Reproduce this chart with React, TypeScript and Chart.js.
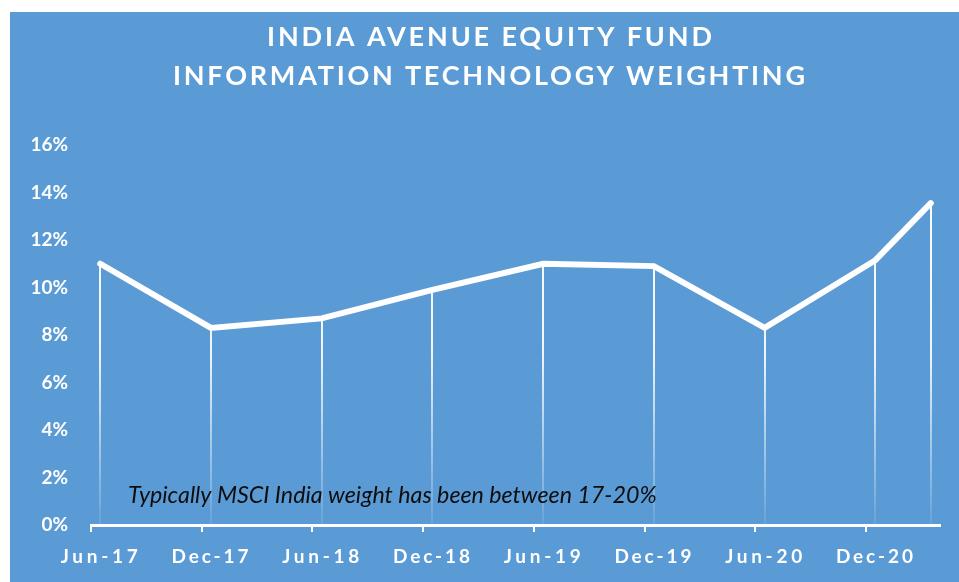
import React, { useEffect, useRef } from "react";
import { Chart, registerables } from "chart.js";

Chart.register(...registerables);

const titleLines = ["INDIA AVENUE EQUITY FUND", "INFORMATION TECHNOLOGY WEIGHTING"];
const dates = ["2017-06", "2017-12", "2018-06", "2018-12", "2019-06", "2019-12", "2020-06", "2020-12", "2021-03"];
const weights = [11.0, 8.3, 8.7, 9.9, 11.0, 10.9, 8.3, 11.15, 13.55];
const tickDates = ["2017-06", "2017-12", "2018-06", "2018-12", "2019-06", "2019-12", "2020-06", "2020-12"];
const tickLabels = ["Jun-17", "Dec-17", "Jun-18", "Dec-18", "Jun-19", "Dec-19", "Jun-20", "Dec-20"];
const axisEnd = "2021-04";
const note = "Typically MSCI India weight has been between 17-20%";

const BG = "#5B9BD5";
const FONT = "Lato, 'Open Sans', sans-serif";

function monthIndex(s: string): number {
  const [y, m] = s.split("-").map(Number);
  return (y - 2017) * 12 + (m - 6);
}

function drawSpaced(ctx: CanvasRenderingContext2D, text: string, cx: number, cy: number, targetWidth: number) {
  (ctx as any).letterSpacing = "0px";
  const w = ctx.measureText(text).width;
  const sp = (targetWidth - w) / Math.max(1, text.length - 1);
  (ctx as any).letterSpacing = sp + "px";
  ctx.textAlign = "left";
  ctx.fillText(text, cx - targetWidth / 2, cy);
  (ctx as any).letterSpacing = "0px";
}

const overlayPlugin = {
  id: "overlay",
  beforeDatasetsDraw(chart: any) {
    const { ctx, chartArea, scales } = chart;
    const meta = chart.getDatasetMeta(0);
    const grad = ctx.createLinearGradient(0, chartArea.top, 0, chartArea.bottom);
    grad.addColorStop(0, "rgba(255,255,255,1)");
    grad.addColorStop(0.55, "rgba(255,255,255,0.9)");
    grad.addColorStop(1, "rgba(255,255,255,0.08)");
    ctx.save();
    ctx.strokeStyle = grad;
    ctx.lineWidth = 2;
    meta.data.forEach((pt: any) => {
      const x = Math.round(pt.x);
      ctx.beginPath();
      ctx.moveTo(x, pt.y);
      ctx.lineTo(x, scales.y.getPixelForValue(0));
      ctx.stroke();
    });
    ctx.restore();
  },
  afterDraw(chart: any) {
    const { ctx, scales } = chart;
    ctx.save();
    ctx.fillStyle = "#ffffff";
    ctx.textBaseline = "middle";
    // title
    ctx.font = `bold 27px ${FONT}`;
    drawSpaced(ctx, titleLines[0], 479.5, 25.5, 445);
    drawSpaced(ctx, titleLines[1], 479, 64.5, 632);
    // x tick labels
    ctx.font = `bold 19px ${FONT}`;
    tickDates.forEach((d, i) => {
      const x = scales.x.getPixelForValue(monthIndex(d) + 0.5);
      drawSpaced(ctx, tickLabels[i], x - 1, 545, 77);
    });
    // note
    ctx.fillStyle = "#0d0d0d";
    let size = 20;
    ctx.font = `italic ${size}px ${FONT}`;
    const w = ctx.measureText(note).width;
    size = (size * 529) / w;
    ctx.font = `italic ${size}px ${FONT}`;
    ctx.textAlign = "left";
    ctx.fillText(note, 118, 484);
    ctx.restore();
  },
};

export default function App() {
  const ref = useRef<HTMLCanvasElement>(null);
  useEffect(() => {
    if (!ref.current) return;
    const chart = new Chart(ref.current, {
      type: "line",
      data: {
        datasets: [
          {
            data: dates.map((d, i) => ({ x: monthIndex(d) + 0.5, y: weights[i] })),
            borderColor: "#ffffff",
            borderWidth: 6,
            pointRadius: 0,
            tension: 0,
            borderCapStyle: "round",
            borderJoinStyle: "miter",
          },
        ],
      },
      options: {
        animation: false,
        responsive: false,
        maintainAspectRatio: false,
        layout: { padding: { top: 133, right: 19, left: 0, bottom: 0 } },
        plugins: { legend: { display: false }, tooltip: { enabled: false }, title: { display: false } },
        scales: {
          x: {
            type: "linear",
            min: 0,
            max: monthIndex(axisEnd),
            afterBuildTicks: (scale: any) => {
              scale.ticks = tickDates.map((d) => ({ value: monthIndex(d) }));
            },
            afterFit: (scale: any) => {
              scale.height = 57;
            },
            ticks: { display: false },
            grid: {
              display: true,
              drawOnChartArea: false,
              drawTicks: true,
              tickLength: 7,
              color: "#ffffff",
              lineWidth: 2,
            },
            border: { display: true, color: "#ffffff", width: 3 },
          },
          y: {
            min: 0,
            max: 16,
            afterFit: (scale: any) => {
              scale.width = 81;
            },
            ticks: {
              stepSize: 2,
              padding: 23,
              color: "#ffffff",
              font: { family: FONT, size: 19, weight: "bold" },
              callback: (v: any) => v + "%",
            },
            grid: { display: false, drawTicks: false },
            border: { display: false },
          },
        },
      },
      plugins: [overlayPlugin],
    } as any);
    return () => chart.destroy();
  }, []);
  return (
    <div style={{ position: "absolute", left: 10, top: 12, width: 949, height: 570, background: BG }}>
      <canvas ref={ref} width={949} height={570} style={{ display: "block" }} />
    </div>
  );
}
